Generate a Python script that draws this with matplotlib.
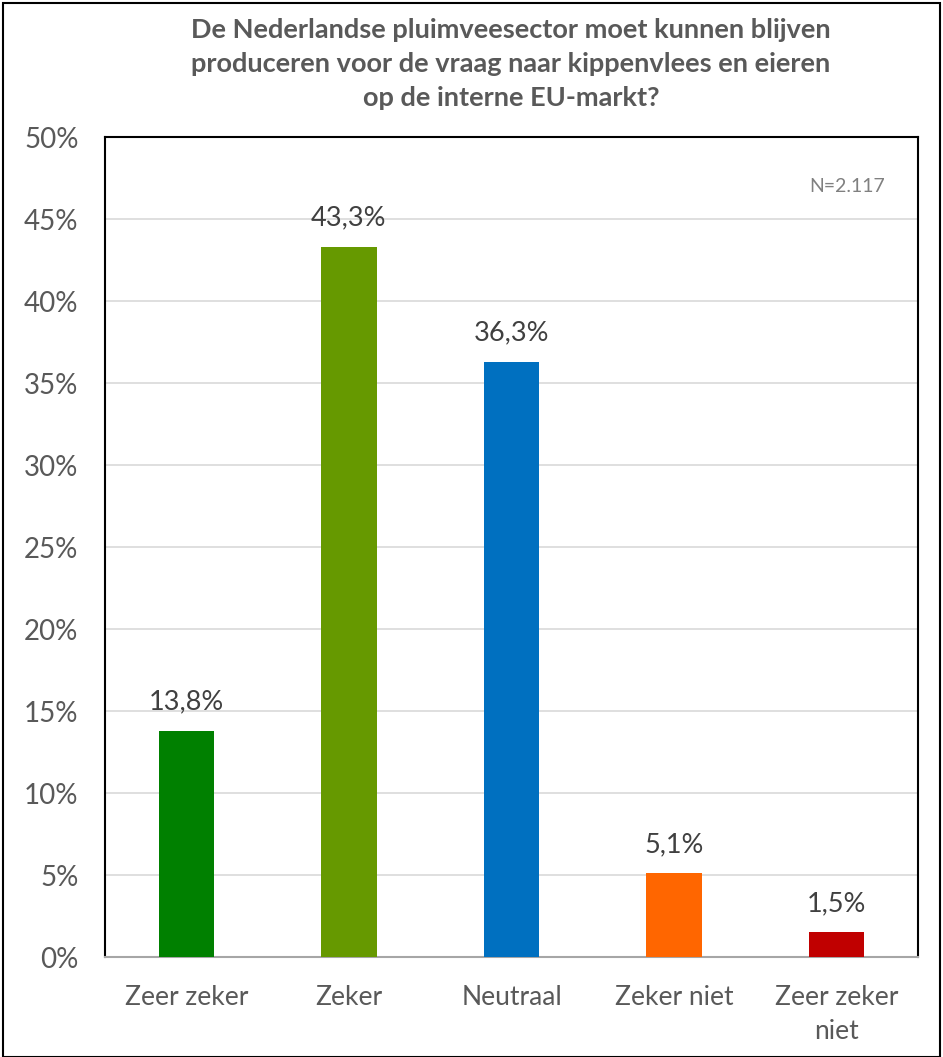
import matplotlib.pyplot as plt
from matplotlib.patches import Rectangle
from matplotlib.ticker import PercentFormatter

categories = ["Zeer zeker", "Zeker", "Neutraal", "Zeker niet", "Zeer zeker\nniet"]
values = [13.8, 43.3, 36.3, 5.1, 1.5]
barColors = ["#008000", "#669900", "#0070C0", "#FF6600", "#C00000"]
yTicks = [0, 5, 10, 15, 20, 25, 30, 35, 40, 45, 50]
title = ("De Nederlandse pluimveesector moet kunnen blijven\n"
         "produceren voor de vraag naar kippenvlees en eieren\n"
         "op de interne EU-markt?")

plt.rcParams['font.family'] = ['Lato', 'DejaVu Sans']
textColor = "#595959"

fig = plt.figure(figsize=(9.43, 10.57), dpi=100)
ax = fig.add_axes([105 / 943, 1 - 957 / 1057, 813 / 943, 820 / 1057])

x = list(range(len(categories)))
ax.bar(x, values, width=0.34, color=barColors, zorder=3)
for xi, v in zip(x, values):
    label = f"{v:.1f}%".replace(".", ",")
    ax.text(xi, v + 1.0, label, ha="center", va="bottom", fontsize=19.5, color="#404040")

ax.set_xlim(-0.5, len(categories) - 0.5)
ax.set_ylim(0, 50)
ax.set_yticks(yTicks)
ax.yaxis.set_major_formatter(PercentFormatter(decimals=0))
ax.set_xticks(x)
ax.set_xticklabels(categories, fontsize=19, color=textColor, linespacing=1.45)
ax.tick_params(axis="y", length=0, pad=19, labelsize=20, labelcolor=textColor)
ax.tick_params(axis="x", length=0, pad=20)
ax.grid(axis="y", color="#D9D9D9", linewidth=1.2, zorder=0)

for side in ["top", "left", "right"]:
    ax.spines[side].set_color("black")
    ax.spines[side].set_linewidth(1.5)
ax.spines["bottom"].set_color("#A6A6A6")
ax.spines["bottom"].set_linewidth(1.5)

ax.text(0.96, 0.94, "N=2.117", transform=ax.transAxes, ha="right", va="center",
        fontsize=14, color="#808080")

# title centred over the plot area, not the figure
fig.text(511 / 943, 1 - 64 / 1057, title, ha="center", va="center", fontsize=19.5,
         fontweight="bold", color=textColor, linespacing=1.5)

fig.patches.append(Rectangle((3 / 943, 0), 937 / 943, 1 - 3 / 1057, transform=fig.transFigure,
                             fill=False, edgecolor="black", linewidth=1.5))

plt.savefig("out.png", dpi=100)
